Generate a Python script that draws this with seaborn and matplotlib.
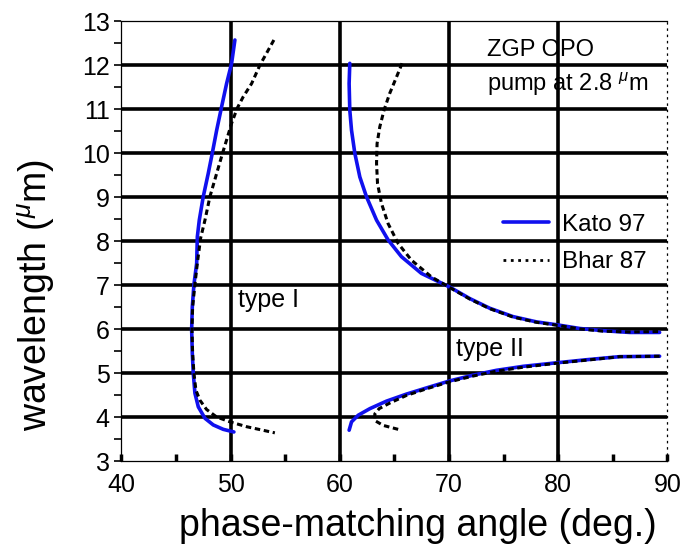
import matplotlib.pyplot as plt
import seaborn as sns
from matplotlib.lines import Line2D
from matplotlib.ticker import MultipleLocator

# curve data (phase-matching angle in deg, wavelength in um)
kato_I_x = [50.39, 50.09, 49.63, 49.17, 48.72, 48.32, 47.95, 47.49, 47.13, 46.95, 46.89, 46.64,
            46.49, 46.43, 46.49, 46.58, 46.73, 47.04, 47.65, 48.41, 49.32, 50.3]
kato_I_y = [12.57, 12.04, 11.58, 11.05, 10.52, 10.0, 9.54, 9.01, 8.48, 8.10, 7.50, 7.02,
            6.51, 6.0, 5.45, 5.0, 4.55, 4.24, 3.98, 3.83, 3.73, 3.67]

bhar_I_x = [53.96, 53.29, 52.68, 51.92, 51.15, 50.6, 50.09, 49.63, 49.26, 48.72, 48.1, 47.65,
            47.25, 46.95, 46.73, 46.52, 46.46, 46.52, 46.64, 46.82, 47.19, 47.8, 48.72, 49.94,
            51.46, 54.05]
bhar_I_y = [12.57, 12.27, 12.0, 11.58, 11.28, 11.02, 10.68, 10.30, 10.0, 9.54, 9.01, 8.48,
            8.07, 7.5, 7.02, 6.51, 6.0, 5.45, 5.0, 4.62, 4.39, 4.18, 4.01, 3.90,
            3.79, 3.65]

kato_IIa_x = [60.91, 60.85, 60.91, 61.07, 61.37, 61.83, 62.44, 63.36, 64.42, 65.64, 67.47, 70.06,
              71.89, 73.72, 75.85, 78.0, 79.97, 81.96, 84.09, 86.53, 89.28]
kato_IIa_y = [12.04, 11.58, 10.98, 10.52, 10.0, 9.46, 9.01, 8.48, 8.03, 7.65, 7.27, 6.96,
              6.70, 6.48, 6.29, 6.17, 6.10, 6.02, 5.97, 5.93, 5.93]

bhar_IIa_x = [65.7, 65.19, 64.57, 64.05, 63.66, 63.41, 63.36, 63.45, 63.81, 64.42, 65.34, 66.56,
              68.39, 70.06, 71.89, 73.72, 75.85, 78.0, 79.97, 81.96, 84.09, 86.53, 89.28]
bhar_IIa_y = [12.04, 11.73, 11.36, 10.98, 10.6, 10.22, 9.77, 9.31, 8.86, 8.40, 7.95, 7.57,
              7.19, 6.95, 6.69, 6.47, 6.28, 6.16, 6.09, 6.01, 5.96, 5.94, 5.95]

kato_IIb_x = [60.85, 61.07, 61.68, 62.75, 64.27, 66.1, 67.93, 70.06, 72.2, 74.34, 76.77, 79.82,
              82.57, 85.62, 89.28]
kato_IIb_y = [3.71, 3.90, 4.05, 4.2, 4.37, 4.53, 4.67, 4.83, 4.96, 5.07, 5.16, 5.24,
              5.31, 5.38, 5.39]

bhar_IIb_x = [89.28, 85.62, 82.57, 79.82, 76.77, 74.34, 72.2, 70.06, 67.93, 66.1, 64.6, 63.6,
              63.2, 63.2, 63.96, 65.64]
bhar_IIb_y = [5.39, 5.38, 5.30, 5.23, 5.14, 5.05, 4.94, 4.81, 4.65, 4.50, 4.33, 4.2,
              4.08, 3.93, 3.82, 3.71]

sns.set_style("ticks")
plt.rcParams['font.family'] = ['Liberation Sans', 'DejaVu Sans']
plt.rcParams['mathtext.fontset'] = 'custom'
plt.rcParams['mathtext.rm'] = 'Liberation Sans'
plt.rcParams['mathtext.it'] = 'Liberation Sans:italic'
plt.rcParams['text.color'] = 'black'
plt.rcParams['axes.labelcolor'] = 'black'
plt.rcParams['xtick.color'] = 'black'
plt.rcParams['ytick.color'] = 'black'
plt.rcParams['axes.edgecolor'] = 'black'

fig = plt.figure(figsize=(6.86, 5.54), dpi=100)
ax = fig.add_axes([0.177, 0.167, 0.796, 0.795])

# thick interior grid
for v in range(50, 90, 10):
    ax.axvline(v, color='black', lw=2.6, zorder=1)
for h in range(4, 13):
    ax.axhline(h, color='black', lw=2.6, zorder=1)

blue = '#1010ee'
for xs, ys in [(kato_I_x, kato_I_y), (kato_IIa_x, kato_IIa_y), (kato_IIb_x, kato_IIb_y)]:
    sns.lineplot(x=xs, y=ys, sort=False, estimator=None, color=blue, lw=2.6, ax=ax, zorder=3)
for xs, ys in [(bhar_I_x, bhar_I_y), (bhar_IIa_x, bhar_IIa_y), (bhar_IIb_x, bhar_IIb_y)]:
    sns.lineplot(x=xs, y=ys, sort=False, estimator=None, color='black', lw=2.2,
                 ax=ax, zorder=4).lines[-1].set_dashes([1.8, 1.2])

ax.set_xlim(40, 90)
ax.set_ylim(3, 13)
ax.xaxis.set_major_locator(MultipleLocator(10))
ax.xaxis.set_minor_locator(MultipleLocator(5))
ax.yaxis.set_major_locator(MultipleLocator(1))
ax.yaxis.set_minor_locator(MultipleLocator(0.5))
ax.tick_params(axis='x', which='both', direction='in', width=2.5, length=5, labelsize=18, pad=8)
ax.tick_params(axis='y', which='both', direction='out', width=1.2, length=5, labelsize=18)
for s in ax.spines.values():
    s.set_linewidth(0.9)
ax.spines['right'].set_linestyle((0, (1, 4)))

ax.set_xlabel('phase-matching angle (deg.)', fontsize=27)
ax.set_ylabel(r'wavelength ($^{\mu}$m)', fontsize=27)
ax.xaxis.set_label_coords(0.543, -0.105, transform=ax.transAxes)
ax.yaxis.set_label_coords(-0.118, 0.378, transform=ax.transAxes)

ax.text(73.5, 12.34, 'ZGP OPO', fontsize=17, va='center', ha='left', zorder=5)
ax.text(73.5, 11.57, r'pump at 2.8 $^{\mu}$m', fontsize=17, va='center', ha='left', zorder=5)
ax.text(50.7, 6.67, 'type I', fontsize=18, va='center', ha='left', zorder=5)
ax.text(70.6, 5.56, 'type II', fontsize=18, va='center', ha='left', zorder=5)

handles = [Line2D([], [], color=blue, lw=2.6),
           Line2D([], [], color='black', lw=2.0, ls=':')]
ax.legend(handles, ['Kato 97', 'Bhar 87'], loc='upper left', bbox_to_anchor=(0.698, 0.562),
          frameon=False, fontsize=17.5, handlelength=1.9, handletextpad=0.55,
          borderpad=0, borderaxespad=0, labelspacing=0.62)

fig.savefig('out.png', dpi=100)
